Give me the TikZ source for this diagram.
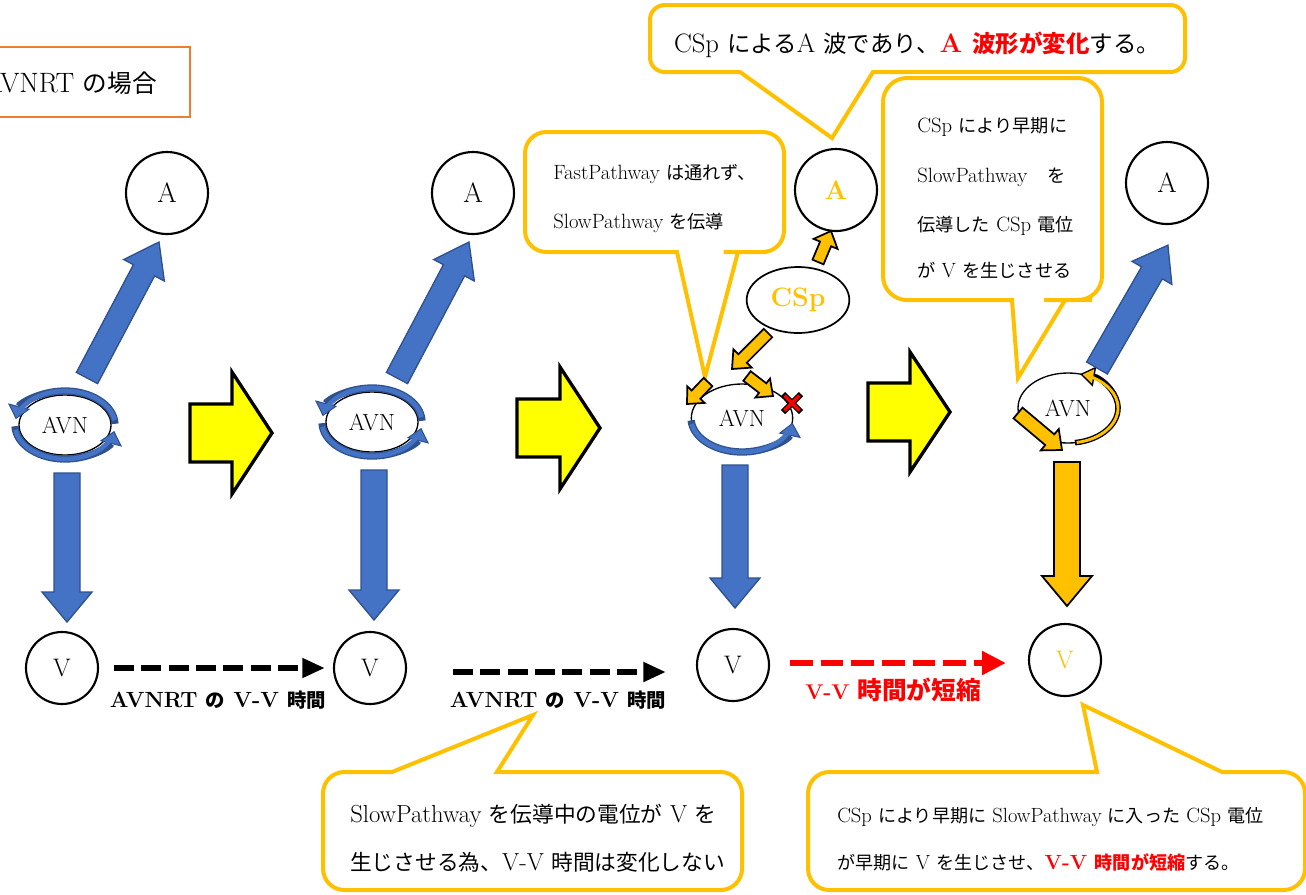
\documentclass[tikz,border=0pt]{standalone}
\usepackage{fontspec}
\usetikzlibrary{arrows.meta,calc,shapes.geometric}
\newfontfamily\jp[Scale=0.88]{Noto Sans CJK JP}
\newcommand\J[1]{{\jp #1}}
\definecolor{co}{HTML}{FFC000}
\definecolor{cb}{HTML}{4472C4}
\definecolor{cbd}{HTML}{2F528F}
\definecolor{cy}{HTML}{FFFF00}
\definecolor{cbox}{HTML}{ED7D31}
\definecolor{cr}{HTML}{FF0000}
\newcommand\fs[1]{\fontsize{#1}{#1}\selectfont}
\newcommand\barrow[6][]{%
  \path (#2); \pgfgetlastxy{\bax}{\bay}%
  \path (#3); \pgfgetlastxy{\bbx}{\bby}%
  \pgfmathsetmacro\baang{atan2(\bby-\bay,\bbx-\bax)}%
  \pgfmathsetmacro\balen{veclen(\bbx-\bax,\bby-\bay)/0.75}%
  \pgfmathsetmacro\babase{\balen-#6}%
  \begin{scope}[shift={(#2)}, rotate=\baang, x=0.75pt, y=0.75pt]
    \draw[#1] (0,-#4) -- (\babase,-#4) -- (\babase,-#5) -- (\balen,0) -- (\babase,#5) -- (\babase,#4) -- (0,#4) -- cycle;
  \end{scope}}
\tikzset{
  circ/.style={circle, draw, line width=1.6pt, fill=white, inner sep=0pt, minimum size=#1, font=\fs{21pt}},
  avn/.style={ellipse, draw, line width=1pt, fill=white, inner sep=0pt, font=\fs{17.5pt}},
  blk/.style={fill=cb, draw=cbd, line width=1pt},
  oblk/.style={fill=co, draw=black, line width=1.3pt},
  yblk/.style={fill=cy, draw=black, line width=2.5pt, line join=miter},
  callout/.style={draw=co, line width=3pt, fill=white},
  ctext/.style={anchor=base west, inner sep=0pt},
  vvk/.style={line width=5pt, dash pattern=on 15pt off 5.5pt, -{Triangle[length=17pt,width=14pt]}},
  vvr/.style={line width=5pt, draw=cr, dash pattern=on 17pt off 6pt, -{Triangle[length=18pt,width=17pt]}},
  barc/.style={draw=cbd, line width=5.5pt, -{Triangle[length=10pt,width=17pt,fill=cb,line width=0.8pt]}},
  barcin/.style={draw=cb, line width=3.5pt},
  oarc/.style={draw=black, line width=4.2pt, -{Triangle[length=11pt,width=15pt,fill=co,line width=1pt]}},
  oarcin/.style={draw=co, line width=2.2pt},
  lab/.style={inner sep=0pt, font=\fs{16.5pt}\bfseries},
}
\begin{document}
\begin{tikzpicture}[x=0.75pt,y=-0.75pt]
\useasboundingbox (0,0) rectangle (1306,894);
\clip (0,0) rectangle (1306,894);

% ---- title box
\draw[draw=cbox, line width=2pt] (-10,47) rectangle (190,117);
\node[anchor=base east, inner sep=0pt, font=\fs{21pt}] (title) at (157,92) {AVNRT \J{の場合}};

% ---- callouts
\draw[callout] (650,40) [rounded corners=11pt] -- (650,5) -- (1185,5) -- (1185,72) -- (900,72) [sharp corners] -- (873,72) -- (832,138) -- (740,72) -- (715,72) [rounded corners=11pt] -- (650,72) -- cycle;
\node[inner sep=0pt, font=\fs{20pt}] (t0) at (917,45) {CSp \J{による}A \J{波であり、}\textcolor{cr}{\bfseries A \J{波形が変化}}\J{する。}};

\draw[callout] (525,190) [rounded corners=16pt] -- (525,132) -- (784,132) -- (784,252) -- (745,252) [sharp corners] -- (738,252) -- (705,377) -- (677,252) -- (655,252) [rounded corners=16pt] -- (525,252) -- cycle;
\node[ctext, font=\fs{15.5pt}] (t1a) at (553,179) {FastPathway \J{は通れず、}};
\node[ctext, font=\fs{15.5pt}] (t1b) at (553,228) {SlowPathway \J{を伝導}};

\draw[callout] (883,190) [rounded corners=18pt] -- (883,78) -- (1102,78) -- (1102,300) -- (1068,300) [sharp corners] -- (1065,300) -- (1018,378) -- (1012,300) -- (980,300) [rounded corners=18pt] -- (883,300) -- cycle;
\node[ctext, font=\fs{15.5pt}] (t2a) at (917,132) {CSp \J{により早期に}};
\node[ctext, font=\fs{15.5pt}] (t2b) at (917,182) {SlowPathway\quad\J{を}};
\node[ctext, font=\fs{15.5pt}] (t2c) at (917,231) {\J{伝導した} CSp \J{電位}};
\node[ctext, font=\fs{15.5pt}] (t2d) at (917,277) {\J{が} V \J{を生じさせる}};

\draw[callout] (323,830) [rounded corners=16pt] -- (323,772) -- (370,772) [sharp corners] -- (392,772) -- (533,715) -- (497,772) -- (520,772) [rounded corners=16pt] -- (742,772) -- (742,890) -- (323,890) -- cycle;
\node[ctext, font=\fs{18.5pt}] (t3a) at (350,822) {SlowPathway \J{を伝導中の電位が} V \J{を}};
\node[ctext, font=\fs{18.5pt}] (t3b) at (350,870) {\J{生じさせる為、}V-V \J{時間は変化しない}};

\draw[callout] (808,830) [rounded corners=16pt] -- (808,772) -- (1075,772) [sharp corners] -- (1097,772) -- (1083,705) -- (1222,772) -- (1245,772) [rounded corners=16pt] -- (1305,772) -- (1305,890) -- (808,890) -- cycle;
\node[ctext, font=\fs{15.4pt}] (t4a) at (837,822) {CSp \J{により早期に} SlowPathway \J{に入った} CSp \J{電位}};
\node[ctext, font=\fs{15.4pt}] (t4b) at (837,869) {\J{が早期に} V \J{を生じさせ、}\textcolor{cr}{\bfseries V-V \J{時間が短縮}}\J{する。}};

% ---- yellow transition arrows
\coordinate (y1a) at (190,433); \coordinate (y1b) at (272,433);
\coordinate (y2a) at (517,428); \coordinate (y2b) at (600,428);
\coordinate (y3a) at (868,412); \coordinate (y3b) at (950,412);
\barrow[yblk]{y1a}{y1b}{29}{61}{40}
\barrow[yblk]{y2a}{y2b}{29}{61}{40}
\barrow[yblk]{y3a}{y3b}{29}{60}{40}

% ---- nodes
\node[circ=61.5pt] (A1) at (167,193) {A};
\node[circ=61.5pt] (A2) at (473,193) {A};
\node[circ=61.5pt, text=co, font=\fs{20pt}\bfseries] (A3) at (836,190) {A};
\node[circ=61.5pt] (A4) at (1167,183) {A};
\node[circ=54pt, font=\fs{19pt}] (V1) at (62,668) {V};
\node[circ=54pt, font=\fs{19pt}] (V2) at (370,668) {V};
\node[circ=54pt, font=\fs{19pt}] (V3) at (733,665) {V};
\node[circ=54pt, font=\fs{19pt}, text=co] (V4) at (1065,660) {V};
\node[ellipse, draw, line width=1.3pt, fill=white, minimum width=77pt, minimum height=49.5pt, inner sep=0pt, text=co, font=\fs{20pt}\bfseries] (csp) at (798,300) {CSp};

% ---- panel 1
\node[avn, minimum width=69pt, minimum height=45pt] (avn1) at (65,425) {AVN};
\draw[barc] ($(avn1.center)+(-2:50 and 34)$) arc[start angle=-2, end angle=-170, x radius=50, y radius=34];
\draw[barcin] ($(avn1.center)+(-8:50 and 34)$) arc[start angle=-8, end angle=-160, x radius=50, y radius=34];
\draw[barc] ($(avn1.center)+(178:50 and 34)$) arc[start angle=178, end angle=10, x radius=50, y radius=34];
\draw[barcin] ($(avn1.center)+(172:50 and 34)$) arc[start angle=172, end angle=20, x radius=50, y radius=34];
\coordinate (d1a) at (87,378); \coordinate (d1b) at (159,242);
\barrow[blk]{d1a}{d1b}{12}{23}{32}
\coordinate (v1a) at (67,473); \coordinate (v1b) at (67,622);
\barrow[blk]{v1a}{v1b}{13}{25}{30}

% ---- panel 2
\node[avn, minimum width=69pt, minimum height=45pt] (avn2) at (372,422) {AVN};
\draw[barc] ($(avn2.center)+(-2:50 and 34)$) arc[start angle=-2, end angle=-170, x radius=50, y radius=34];
\draw[barcin] ($(avn2.center)+(-8:50 and 34)$) arc[start angle=-8, end angle=-160, x radius=50, y radius=34];
\draw[barc] ($(avn2.center)+(178:50 and 34)$) arc[start angle=178, end angle=10, x radius=50, y radius=34];
\draw[barcin] ($(avn2.center)+(172:50 and 34)$) arc[start angle=172, end angle=20, x radius=50, y radius=34];
\coordinate (d2a) at (397,378); \coordinate (d2b) at (469,242);
\barrow[blk]{d2a}{d2b}{12}{23}{32}
\coordinate (v2a) at (374,470); \coordinate (v2b) at (374,620);
\barrow[blk]{v2a}{v2b}{13}{25}{30}

% ---- panel 3
\node[avn, minimum width=76pt, minimum height=51pt] (avn3) at (742,418) {AVN};
\draw[barc] ($(avn3.center)+(176:51 and 34)$) arc[start angle=176, end angle=8, x radius=51, y radius=34];
\draw[barcin] ($(avn3.center)+(170:51 and 34)$) arc[start angle=170, end angle=18, x radius=51, y radius=34];
\coordinate (v3a) at (735,465); \coordinate (v3b) at (735,608);
\barrow[blk]{v3a}{v3b}{13}{25}{30}
\coordinate (o1a) at (818,262); \coordinate (o1b) at (831,231);
\barrow[oblk]{o1a}{o1b}{6}{13}{14}
\coordinate (o2a) at (768,333); \coordinate (o2b) at (732,369);
\barrow[oblk]{o2a}{o2b}{6}{13}{15}
\coordinate (o3a) at (708,382); \coordinate (o3b) at (687,404);
\barrow[oblk]{o3a}{o3b}{6}{12}{13}
\coordinate (o4a) at (747,376); \coordinate (o4b) at (773,396);
\barrow[oblk]{o4a}{o4b}{6}{12}{13}
\draw[line width=4.5pt, black] (783,394) -- (801,412) (783,412) -- (801,394);
\draw[line width=2.5pt, cr] (784.5,395.5) -- (799.5,410.5) (784.5,410.5) -- (799.5,395.5);

% ---- panel 4
\node[avn, minimum width=75pt, minimum height=52.5pt] (avn4) at (1068,408) {AVN};
\draw[oarc] ($(avn4.center)+(82:50 and 35)$) arc[start angle=82, end angle=-76, x radius=50, y radius=35];
\draw[oarcin] ($(avn4.center)+(80:50 and 35)$) arc[start angle=80, end angle=-66, x radius=50, y radius=35];
\coordinate (o5a) at (1018,413); \coordinate (o5b) at (1062,450);
\barrow[oblk]{o5a}{o5b}{7}{14}{16}
\coordinate (d4a) at (1097,368); \coordinate (d4b) at (1168,245);
\barrow[blk]{d4a}{d4b}{12}{23}{32}
\coordinate (v4a) at (1067,462); \coordinate (v4b) at (1067,606);
\barrow[oblk]{v4a}{v4b}{13}{25}{30}

% ---- V-V intervals
\draw[vvk] (V1.east) ++(15,0) coordinate (k1s) -- ($(V2.west)+(-8,0)$);
\coordinate (k2s) at (453,672); \coordinate (k2e) at (666,672);
\draw[vvk] (k2s) -- (k2e);
\coordinate (r1s) at (790,663); \coordinate (r1e) at (1006,663);
\draw[vvr] (r1s) -- (r1e);
\node[lab] (l1) at (218,700) {AVNRT \J{の} V-V \J{時間}};
\node[lab] (l2) at (558,700) {AVNRT \J{の} V-V \J{時間}};
\node[inner sep=0pt, text=cr, font=\fs{16pt}\bfseries] (l3) at (893,690) {V-V {\jp\fs{21pt}時間が短縮}};
\end{tikzpicture}
\end{document}
